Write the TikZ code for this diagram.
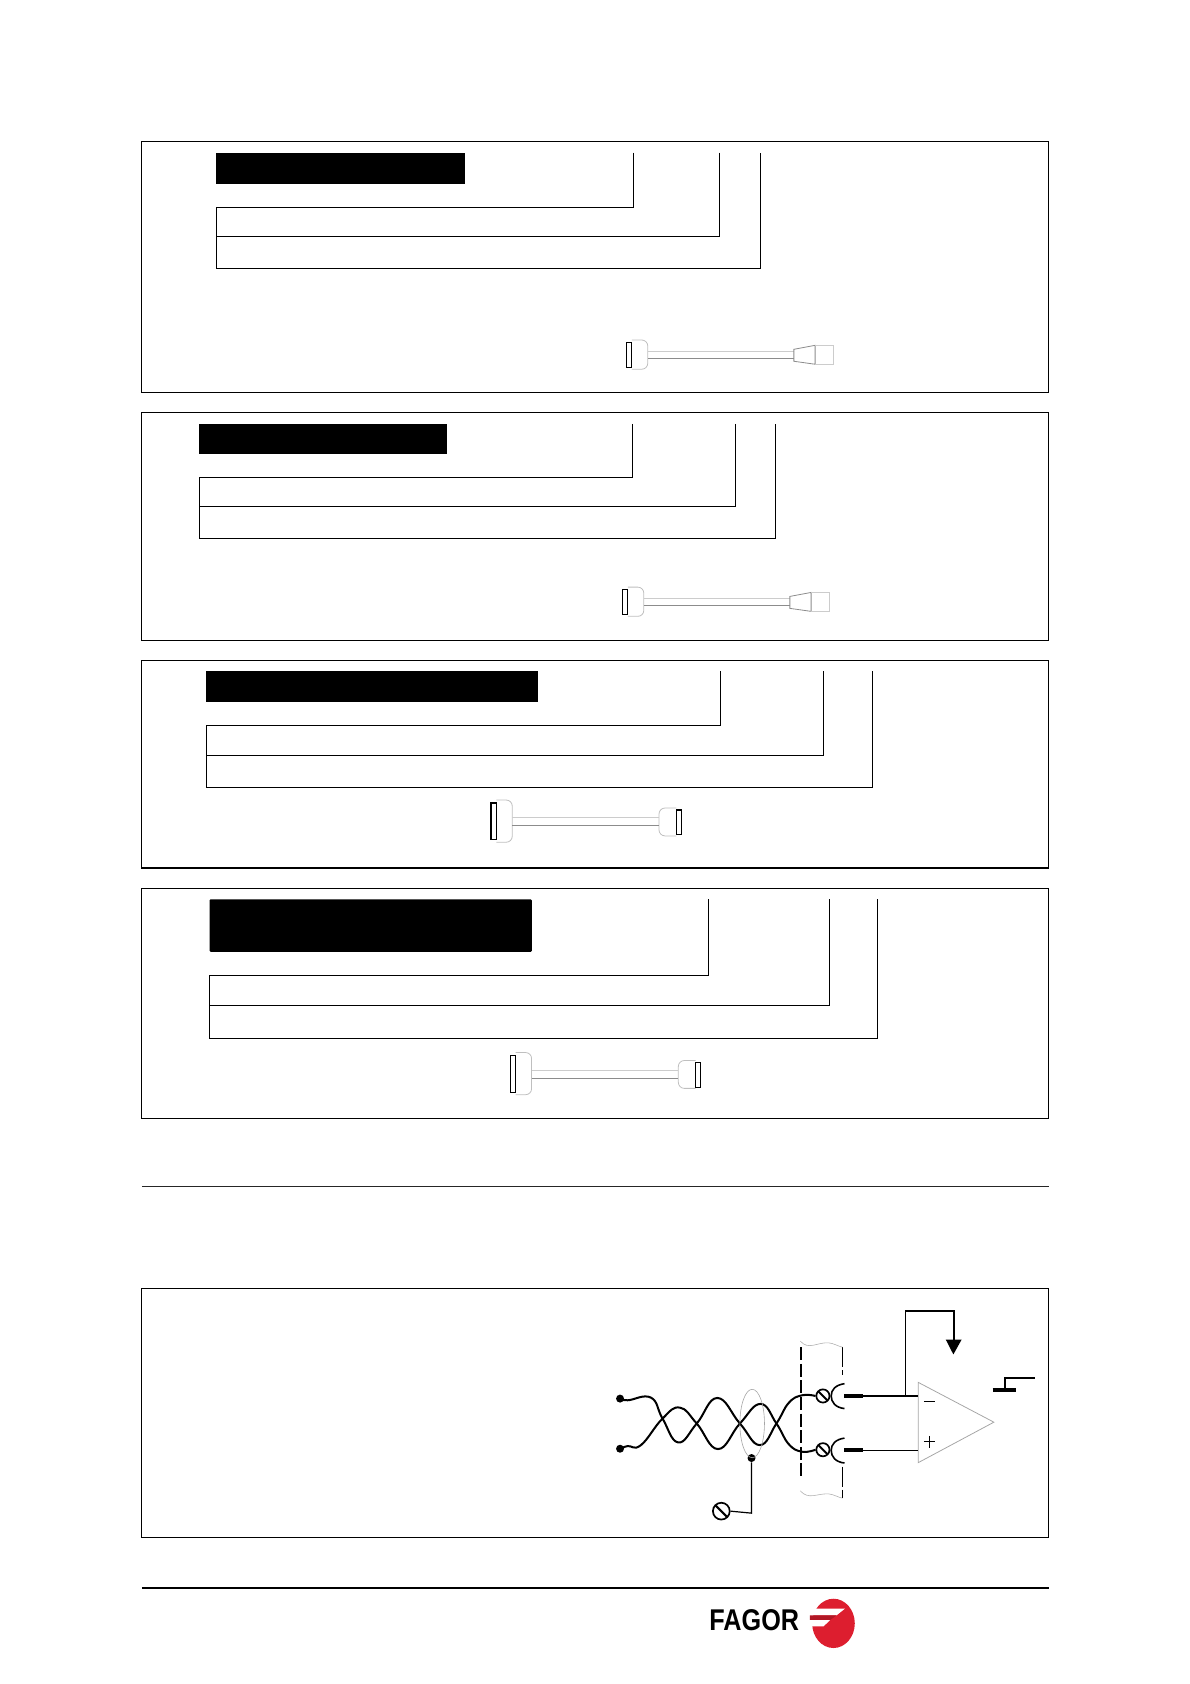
\documentclass[tikz,border=0pt]{standalone}
\usepackage{fontspec}
\setmainfont{Liberation Sans}
\tikzset{
  frameline/.style={line width=0.65pt},
  leader/.style={line width=0.5pt},
  blackbar/.style={fill=black,draw=none},
  plugbody/.style={draw=black!25,line width=0.4pt,rounded corners=3pt},
  plugpin/.style={draw=black,fill=white,line width=0.55pt},
  wire/.style={line width=1pt},
  screw/.style={circle,draw,line width=0.85pt,inner sep=0pt,minimum size=#1,
    path picture={\draw[line width=1pt] (path picture bounding box.north west) -- (path picture bounding box.south east);}},
  blob/.style={circle,fill=black,inner sep=0pt,minimum size=4pt},
  graywave/.style={draw=black!30,line width=0.3pt},
}
\definecolor{fagorred}{RGB}{221,30,47}
\begin{document}
\begin{tikzpicture}[x=0.5372pt,y=-0.5372pt]
	\useasboundingbox (0,0) rectangle (1107.6,1567.4);
	% panels
	\draw[frameline] (131.7,131.5) rectangle (976,365);
	\draw[frameline] (131.7,384) rectangle (976,596);
	\draw[frameline] (131.7,615) rectangle (976,808);
	\draw[frameline] (131.7,827) rectangle (976,1041);
	\draw[frameline] (131.7,1199) rectangle (976,1431);
	\draw[line width=0.4pt,black!85] (132,1104) -- (976,1104);
	\draw[line width=1pt] (132,1478) -- (976,1478);
	% black title bars
	\fill[blackbar] (201,142) rectangle (433,171);
	\fill[blackbar] (185,394.5) rectangle (416,422.5);
	\fill[blackbar] (192,625) rectangle (501,653);
	\fill[blackbar,rounded corners=0.6pt] (195,837) rectangle (495,886);
	% leader lines
	\foreach \l/\t/\xa/\ya/\xb/\yb/\xc/\yc in {
		201.7/142/589.3/193/670/220/708/250,
		185.7/394.5/589/444/685/471/722/501,
		192.3/625/671/675/766.7/703/812/733,
		195/837/659.5/908/772/936/817/967}
	{
		\draw[leader] (\xa,\t) -- (\xa,\ya) -- (\l,\ya) -- (\l,\yc) -- (\xc,\yc) -- (\xc,\t);
		\draw[leader] (\xb,\t) -- (\xb,\yb) -- (\l,\yb);
	}
	% cables with a cone plug
	\foreach \cx/\cy in {568/307.2,564.3/537.2}
	{
		\begin{scope}[shift={(\cx,\cy)},scale=0.309]
			\draw[plugbody] (65,30) -- (113,30) -- (113,118) -- (65,118);
			\draw[black!20,line width=0.5pt] (113,64) -- (553,64);
			\draw[black!45,line width=0.5pt] (113,85) -- (553,85);
			\draw[black!45,line width=0.4pt] (553,58) -- (617,46) -- (617,103) -- (553,94) -- cycle;
			\draw[black!20,line width=0.4pt] (617,46) -- (673,46) -- (673,103) -- (617,103);
			\draw[plugpin] (49,37) rectangle (65,113);
		\end{scope}
	}
	% cables with two flat plugs
	\foreach \cx/\cy in {446.5/736,464.5/971}
	{
		\begin{scope}[shift={(\cx,\cy)},scale=0.309]
			\draw[plugbody] (50,28) -- (98,28) -- (98,155) -- (50,155);
			\draw[plugbody] (592,52) -- (540,52) -- (540,136) -- (592,136);
			\draw[black!20,line width=0.5pt] (98,82) -- (540,82);
			\draw[black!45,line width=0.5pt] (98,105) -- (540,105);
			\draw[plugpin] (34,37) rectangle (50,148);
			\draw[plugpin] (592,58) rectangle (608,133);
		\end{scope}
	}
	% screened input
	\begin{scope}[shift={(559.5,1210.6)},scale=0.309]
		\node[blob] (in1) at (57,295) {};
		\node[blob] (in2) at (57,446) {};
		\node[blob] (shield) at (453,474) {};
		\node[screw=6.6pt] (sc1) at (668,287) {};
		\node[screw=6.6pt] (sc2) at (668,449) {};
		\node[screw=8.4pt] (sc3) at (362,634) {};
		\draw[wire] plot[smooth,tension=0.75] coordinates {(in1) (80,300) (150,292) (185,355) (232,427) (288,370) (350,293) (418,370) (478,435) (528,370) (565,308) (605,285) (sc1.west)};
		\draw[wire] plot[smooth,tension=0.75] coordinates {(in2) (80,438) (120,435) (185,355) (237,322) (288,370) (352,447) (418,370) (480,311) (528,370) (565,432) (605,455) (sc2.west)};
		\draw[black!35,line width=0.3pt] (455,370) ellipse [x radius=37,y radius=103];
		\draw[line width=0.6pt] (shield) -- (453,640) -- (sc3.east);
		% wall of the unit
		\draw[line width=1.1pt,dash pattern=on 6.5pt off 1.8pt] (603,140) -- (603,540);
		\draw[line width=0.45pt,dash pattern=on 10pt off 1.5pt] (727,140) -- (727,225);
		\draw[line width=0.45pt,dash pattern=on 10pt off 1.5pt] (727,500) -- (727,595);
		\draw[graywave] (600,122) .. controls (625,150) and (650,125) .. (685,127) .. controls (700,128) and (715,138) .. (727,140);
		\draw[graywave] (600,573) .. controls (625,601) and (650,580) .. (685,582) .. controls (700,583) and (715,593) .. (727,595);
		% sockets
		\foreach \sy in {287,451}
		{
			\draw[line width=0.8pt] (733,\sy-37) .. controls (705,\sy-33) and (693,\sy-18) .. (693,\sy) .. controls (693,\sy+18) and (705,\sy+35) .. (733,\sy+38);
			\draw[line width=2pt] (733,\sy) -- (789,\sy);
		}
		% amplifier
		\draw[black!35,line width=0.4pt] (955,246) -- (1183,366) -- (955,488) -- cycle;
		\draw[line width=1pt] (789,287) -- (955,287);
		\draw[line width=0.6pt] (789,451) -- (955,451);
		\draw[line width=0.4pt] (972,304) -- (1007,304);
		\draw[line width=0.4pt] (972,425) -- (1007,425) (989,407) -- (989,443);
		\draw[line width=0.7pt] (916,287) -- (916,31) -- (1063,31) -- (1063,120);
		\fill (1038,117) -- (1086,117) -- (1061,162) -- cycle;
		% ground
		\draw[line width=2pt] (1179,270) -- (1251,270);
		\draw[line width=0.8pt] (1216,270) -- (1216,233) -- (1308,233);
	\end{scope}
	% logo
	\node[font=\bfseries,inner sep=0pt,anchor=west,xscale=0.84] (fagortxt) at (660,1508) {\fontsize{15pt}{16pt}\selectfont FAGOR};
	\begin{scope}[shift={(749.1,1484.3)},scale=0.31]
		\fill[fagorred] (86,86) ellipse [x radius=64,y radius=74];
		\fill[white] (10,42) -- (120,42) -- (95,62) -- (10,62) -- cycle;
		\fill[fagorred!80!black] (15,62) -- (95,62) -- (76,76) -- (15,76) -- cycle;
		\fill[white] (10,76) -- (76,76) -- (56,95) -- (10,95) -- cycle;
	\end{scope}
\end{tikzpicture}
\end{document}
